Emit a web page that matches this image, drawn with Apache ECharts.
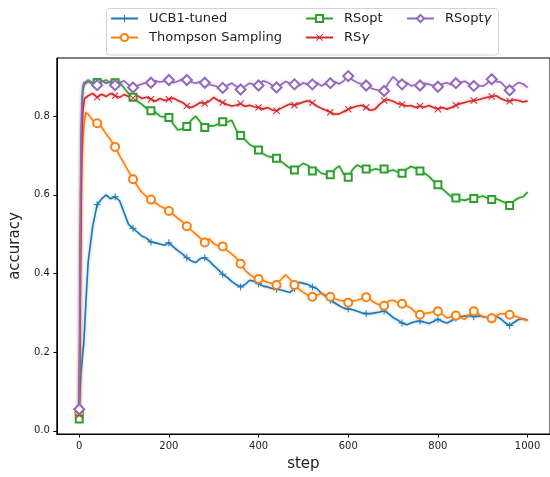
<!DOCTYPE html>
<html>
<head>
<meta charset="utf-8">
<script src="https://cdn.jsdelivr.net/npm/echarts@6/dist/echarts.min.js"></script>
<style>
  html, body { margin: 0; padding: 0; background: #fff; }
  #chart { width: 550px; height: 477px; }
</style>
</head>
<body>
<div id="chart"></div>
<script>
// x positions (step) shared by all series
const steps = [
  0, 2, 4, 6, 8, 10, 12, 15,
  20, 30, 40, 50, 60, 70, 80, 90, 100, 110,
  120, 130, 140, 150, 160, 170, 180, 190, 200, 210,
  220, 230, 240, 250, 260, 270, 280, 290, 300, 310,
  320, 330, 340, 350, 360, 370, 380, 390, 400, 410,
  420, 430, 440, 450, 460, 470, 480, 490, 500, 510,
  520, 530, 540, 550, 560, 570, 580, 590, 600, 610,
  620, 630, 640, 650, 660, 670, 680, 690, 700, 710,
  720, 730, 740, 750, 760, 770, 780, 790, 800, 810,
  820, 830, 840, 850, 860, 870, 880, 890, 900, 910,
  920, 930, 940, 950, 960, 970, 980, 990, 1000
];

const ucb1Tuned = [
  0.06, 0.11, 0.15, 0.17, 0.20, 0.22, 0.26, 0.33,
  0.43, 0.52, 0.575, 0.59, 0.60, 0.59, 0.595, 0.585, 0.555, 0.525,
  0.515, 0.505, 0.495, 0.49, 0.48, 0.478, 0.475, 0.472, 0.478, 0.468,
  0.458, 0.45, 0.44, 0.432, 0.428, 0.438, 0.44, 0.432, 0.42, 0.41,
  0.398, 0.39, 0.38, 0.372, 0.366, 0.372, 0.383, 0.38, 0.374, 0.368,
  0.366, 0.362, 0.36, 0.358, 0.355, 0.352, 0.362, 0.378, 0.375, 0.372,
  0.366, 0.362, 0.35, 0.342, 0.332, 0.325, 0.318, 0.312, 0.31, 0.308,
  0.304, 0.30, 0.298, 0.298, 0.30, 0.302, 0.305, 0.298, 0.288, 0.282,
  0.274, 0.27, 0.274, 0.278, 0.279, 0.276, 0.273, 0.278, 0.284, 0.278,
  0.274, 0.28, 0.287, 0.29, 0.292, 0.293, 0.29, 0.292, 0.291, 0.288,
  0.29, 0.291, 0.285, 0.275, 0.268, 0.276, 0.283, 0.285, 0.282
];

const thompson = [
  0.045, 0.30, 0.55, 0.68, 0.74, 0.77, 0.79, 0.81,
  0.805, 0.79, 0.782, 0.772, 0.755, 0.74, 0.722, 0.70, 0.68, 0.66,
  0.64, 0.622, 0.606, 0.596, 0.588, 0.58, 0.572, 0.566, 0.559, 0.55,
  0.54, 0.532, 0.52, 0.51, 0.50, 0.49, 0.479, 0.488, 0.476, 0.47,
  0.469, 0.458, 0.45, 0.44, 0.425, 0.408, 0.398, 0.39, 0.386, 0.382,
  0.378, 0.375, 0.371, 0.385, 0.397, 0.386, 0.371, 0.36, 0.352, 0.345,
  0.341, 0.345, 0.35, 0.345, 0.341, 0.336, 0.332, 0.33, 0.326, 0.33,
  0.332, 0.336, 0.34, 0.333, 0.325, 0.32, 0.318, 0.33, 0.332, 0.326,
  0.323, 0.318, 0.312, 0.302, 0.295, 0.298, 0.30, 0.303, 0.304, 0.296,
  0.287, 0.29, 0.293, 0.288, 0.284, 0.295, 0.304, 0.298, 0.29, 0.288,
  0.286, 0.292, 0.298, 0.297, 0.295, 0.292, 0.289, 0.284, 0.28
];

const rsOpt = [
  0.03, 0.40, 0.70, 0.82, 0.86, 0.875, 0.882, 0.885,
  0.888, 0.882, 0.886, 0.89, 0.884, 0.888, 0.885, 0.886, 0.872, 0.858,
  0.848, 0.838, 0.83, 0.82, 0.814, 0.81, 0.80, 0.798, 0.797, 0.78,
  0.765, 0.768, 0.774, 0.79, 0.80, 0.785, 0.771, 0.776, 0.775, 0.78,
  0.786, 0.785, 0.79, 0.765, 0.751, 0.74, 0.728, 0.722, 0.714, 0.705,
  0.698, 0.696, 0.693, 0.685, 0.676, 0.668, 0.663, 0.672, 0.68, 0.675,
  0.661, 0.665, 0.655, 0.652, 0.651, 0.665, 0.674, 0.652, 0.645, 0.665,
  0.676, 0.67, 0.666, 0.662, 0.666, 0.664, 0.666, 0.66, 0.663, 0.658,
  0.655, 0.665, 0.672, 0.668, 0.661, 0.655, 0.647, 0.635, 0.626, 0.615,
  0.605, 0.595, 0.592, 0.588, 0.586, 0.59, 0.591, 0.594, 0.597, 0.592,
  0.588, 0.59, 0.585, 0.58, 0.573, 0.585, 0.592, 0.595, 0.607
];

const rsGamma = [
  0.04, 0.30, 0.60, 0.75, 0.81, 0.83, 0.845, 0.85,
  0.852, 0.858, 0.848, 0.856, 0.85, 0.858, 0.852, 0.848, 0.855, 0.85,
  0.846, 0.852, 0.845, 0.848, 0.843, 0.838, 0.845, 0.84, 0.843, 0.846,
  0.84, 0.835, 0.826, 0.822, 0.828, 0.835, 0.832, 0.838, 0.848, 0.84,
  0.835, 0.83, 0.826, 0.828, 0.832, 0.825, 0.828, 0.824, 0.822, 0.818,
  0.822, 0.816, 0.814, 0.82, 0.826, 0.831, 0.828, 0.832, 0.836, 0.839,
  0.834, 0.826, 0.82, 0.815, 0.81, 0.805, 0.806, 0.812, 0.818, 0.822,
  0.826, 0.828, 0.822, 0.815, 0.818, 0.83, 0.84, 0.842, 0.838, 0.832,
  0.83, 0.826, 0.827, 0.822, 0.826, 0.823, 0.827, 0.822, 0.818, 0.822,
  0.818, 0.822, 0.828, 0.832, 0.835, 0.838, 0.84, 0.842, 0.845, 0.848,
  0.85, 0.852, 0.845, 0.84, 0.838, 0.842, 0.84, 0.836, 0.839
];

const rsOptGamma = [
  0.055, 0.45, 0.75, 0.85, 0.875, 0.885, 0.89, 0.888,
  0.892, 0.885, 0.879, 0.888, 0.892, 0.884, 0.879, 0.885, 0.89, 0.88,
  0.873, 0.878, 0.882, 0.886, 0.885, 0.89, 0.887, 0.889, 0.892, 0.885,
  0.889, 0.894, 0.892, 0.887, 0.884, 0.888, 0.885, 0.88, 0.878, 0.874,
  0.872, 0.878, 0.884, 0.876, 0.868, 0.876, 0.884, 0.88, 0.878, 0.89,
  0.886, 0.879, 0.873, 0.88, 0.888, 0.884, 0.881, 0.877, 0.885, 0.88,
  0.881, 0.886, 0.877, 0.883, 0.884, 0.888, 0.882, 0.89, 0.902, 0.892,
  0.886, 0.882, 0.878, 0.872, 0.868, 0.866, 0.864, 0.885, 0.90, 0.89,
  0.881, 0.886, 0.877, 0.88, 0.878, 0.884, 0.881, 0.878, 0.875, 0.882,
  0.885, 0.88, 0.884, 0.886, 0.889, 0.882, 0.877, 0.878, 0.876, 0.884,
  0.894, 0.888, 0.887, 0.875, 0.866, 0.878, 0.886, 0.882, 0.873
];

const xTicks = [0, 200, 400, 600, 800, 1000];
const yTicks = [0, 0.2, 0.4, 0.6, 0.8];

const plusPath = 'path://M4.3,0H5.7V4.3H10V5.7H5.7V10H4.3V5.7H0V4.3H4.3Z';
const crossPath = 'path://M0,1L1,0L5,4L9,0L10,1L6,5L10,9L9,10L5,6L1,10L0,9L4,5Z';

const font = 'DejaVu Sans';

const toPairs = (vals) => steps.map((s, i) => [s, vals[i]]);

// markers every 40 steps, like markevery
const markerSize = (size) => (val) => (val[0] % 40 === 0 && val[0] <= 960 ? size : 0);

const makeSeries = (name, vals, color, glow, symbol, size) => ({
  name,
  type: 'line',
  data: toPairs(vals),
  symbol,
  symbolSize: markerSize(size),
  showSymbol: true,
  showAllSymbol: true,
  animation: false,
  lineStyle: { color, width: 1.6, shadowColor: glow, shadowBlur: 3 },
  itemStyle: { color, borderWidth: 1 },
  emphasis: { disabled: true },
});

const legendText = {
  fontFamily: font,
  fontSize: 13,
  color: '#222',
  padding: [0, 0, 0, 6],
  rich: { g: { fontFamily: font, fontSize: 13, fontStyle: 'italic', color: '#222' } },
};
const legendFmt = (name) => name.replace('γ', '{g|γ}');
const legendBase = {
  orient: 'vertical',
  top: 12,
  itemWidth: 27,
  itemHeight: 9,
  itemGap: 6,
  padding: 0,
  textStyle: legendText,
  formatter: legendFmt,
};

const chart = echarts.init(document.getElementById('chart'), null, { renderer: 'canvas' });

chart.setOption({
  backgroundColor: '#fff',
  animation: false,
  grid: {
    left: 52, right: -3, top: 58, bottom: 38,
    show: true, borderColor: '#000', borderWidth: 1,
  },
  legend: [
    Object.assign({}, legendBase, { left: 110, data: ['UCB1-tuned', 'Thompson Sampling'] }),
    Object.assign({}, legendBase, { left: 305, data: ['RSopt', 'RSγ'] }),
    Object.assign({}, legendBase, { left: 406, data: ['RSoptγ'] }),
  ],
  graphic: [{
    type: 'rect',
    z: -1,
    shape: { x: 106.5, y: 8.5, width: 392, height: 46.5, r: 3 },
    style: { fill: 'rgba(255,255,255,0.8)', stroke: '#d4d4d4', lineWidth: 1 },
  }],
  xAxis: {
    type: 'value',
    min: -50,
    max: 1050,
    name: 'step',
    nameLocation: 'middle',
    nameGap: 23,
    nameTextStyle: { fontFamily: font, fontSize: 15, color: '#222' },
    axisLine: { onZero: false, lineStyle: { color: '#000', width: 1 } },
    axisTick: { customValues: xTicks, length: 3.5, lineStyle: { color: '#000' } },
    axisLabel: {
      customValues: xTicks, margin: 7.5, fontFamily: font, fontSize: 10, color: '#222',
      formatter: (v) => String(v),
    },
    splitLine: { show: false },
  },
  yAxis: {
    type: 'value',
    min: -0.008,
    max: 0.948,
    name: 'accuracy',
    nameLocation: 'middle',
    nameGap: 25,
    nameTextStyle: { fontFamily: font, fontSize: 15, color: '#222' },
    axisLine: { show: true, onZero: false, lineStyle: { color: '#000', width: 1 } },
    axisTick: { show: true, customValues: yTicks, length: 3.5, lineStyle: { color: '#000' } },
    axisLabel: {
      customValues: yTicks, margin: 7, fontFamily: font, fontSize: 10, color: '#222',
      formatter: (v) => v.toFixed(1),
    },
    splitLine: { show: false },
  },
  series: [
    makeSeries('UCB1-tuned', ucb1Tuned, '#1f77b4', 'rgba(31,119,180,0.45)', plusPath, 7),
    makeSeries('Thompson Sampling', thompson, '#ff7f0e', 'rgba(255,127,14,0.45)', 'emptyCircle', 8),
    makeSeries('RSopt', rsOpt, '#2ca02c', 'rgba(44,160,44,0.45)', 'emptyRect', 7),
    makeSeries('RSγ', rsGamma, '#d62728', 'rgba(214,39,40,0.45)', crossPath, 7),
    makeSeries('RSoptγ', rsOptGamma, '#9467bd', 'rgba(148,103,189,0.45)', 'emptyDiamond', 10),
  ],
});
</script>
</body>
</html>
